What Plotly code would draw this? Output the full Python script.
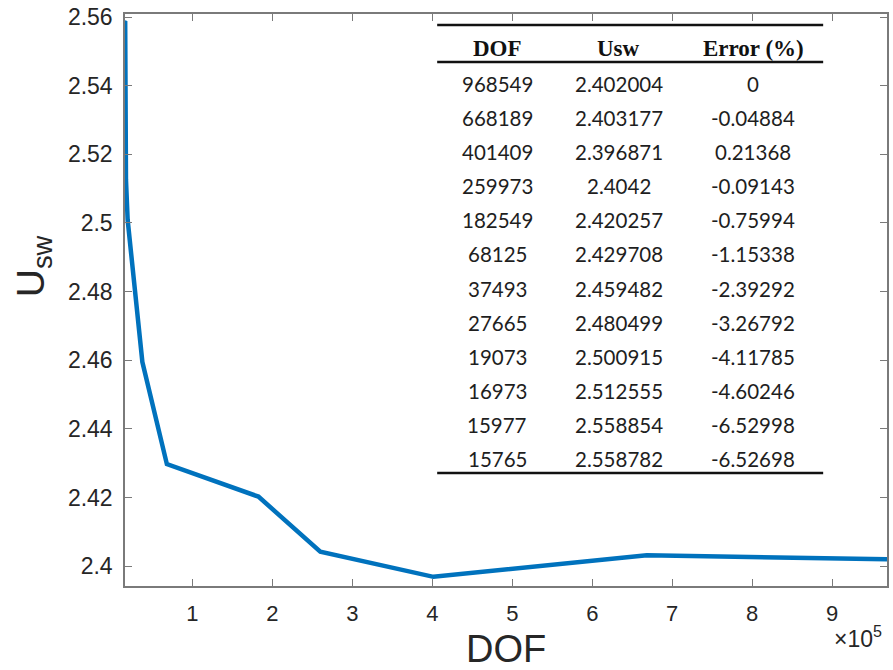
import plotly.graph_objects as go

# ---- data ----
dof = [968549, 668189, 401409, 259973, 182549, 68125, 37493, 27665, 19073, 16973, 15977, 15765]
usw = [2.402004, 2.403177, 2.396871, 2.4042, 2.420257, 2.429708, 2.459482, 2.480499, 2.500915, 2.512555, 2.558854, 2.558782]
err_txt = ["0", "-0.04884", "0.21368", "-0.09143", "-0.75994", "-1.15338", "-2.39292", "-3.26792", "-4.11785", "-4.60246", "-6.52998", "-6.52698"]
usw_txt = ["2.402004", "2.403177", "2.396871", "2.4042", "2.420257", "2.429708", "2.459482", "2.480499", "2.500915", "2.512555", "2.558854", "2.558782"]
headers = ["DOF", "Usw", "Error (%)"]
xtick_vals = [100000, 200000, 300000, 400000, 500000, 600000, 700000, 800000, 900000]
xtick_text = ["1", "2", "3", "4", "5", "6", "7", "8", "9"]

W, H = 893, 670
L, R, T, B = 125, 889, 14, 586

def px(x):
    return (x - L) / (R - L)

def py(y):
    return (B - y) / (B - T)

fig = go.Figure()
fig.add_trace(go.Scatter(x=dof, y=usw, mode="lines",
                         line=dict(color="#0072BD", width=4.5),
                         showlegend=False, hoverinfo="skip"))

axcol = "#7a7a7a"
fig.update_layout(
    width=W, height=H,
    margin=dict(l=L, r=W - R, t=T, b=H - B),
    paper_bgcolor="white", plot_bgcolor="white",
    font=dict(family="Liberation Sans, Arial, sans-serif", color="#262626"),
    xaxis=dict(range=[15765, 968549], tickvals=xtick_vals, ticktext=xtick_text,
               showgrid=False, zeroline=False, showline=True, mirror="ticks",
               linecolor=axcol, linewidth=1.5, ticks="inside", ticklen=7,
               tickcolor=axcol, tickwidth=1.3, tickfont=dict(size=22, color="#262626"),
               ticklabelstandoff=7),
    yaxis=dict(range=[2.3942, 2.5609], tick0=2.4, dtick=0.02,
               showgrid=False, zeroline=False, showline=True, mirror="ticks",
               linecolor=axcol, linewidth=1.5, ticks="inside", ticklen=7,
               tickcolor=axcol, tickwidth=1.3, tickfont=dict(size=23, color="#262626"),
               ticklabelstandoff=6),
)

ann = []
# axis titles
ann.append(dict(text="DOF", x=px(507), y=py(649), xref="paper", yref="paper",
                showarrow=False, font=dict(size=38, color="#262626"),
                xanchor="center", yanchor="middle"))
ann.append(dict(text="U<sub>sw</sub>", x=px(33), y=py(266), xref="paper", yref="paper",
                showarrow=False, font=dict(size=39, color="#262626"), textangle=-90,
                xanchor="center", yanchor="middle"))
ann.append(dict(text="\u00d710<sup>5</sup>", x=px(886), y=py(654), xref="paper", yref="paper",
                showarrow=False, font=dict(size=23, color="#262626"),
                xanchor="right", yanchor="bottom"))
# clipped title at the very top
ann.append(dict(text="<b>Convergence Analysis</b>", x=px(505), y=py(2.3), xref="paper", yref="paper",
                showarrow=False, font=dict(size=82, color="black"),
                xanchor="center", yanchor="bottom"))

# inset table
col_x = [498, 620, 755]
for cx, h in zip(col_x, headers):
    ann.append(dict(text="<b>" + h + "</b>", x=px(cx), y=py(49), xref="paper", yref="paper",
                    showarrow=False, font=dict(family="Liberation Serif, Times New Roman, serif",
                                               size=23, color="#111111"),
                    xanchor="center", yanchor="middle"))
row0, dy = 84, 34.1
for i in range(len(dof)):
    yy = row0 + i * dy
    for cx, t in zip(col_x, [str(dof[i]), usw_txt[i], err_txt[i]]):
        ann.append(dict(text=t, x=px(cx), y=py(yy), xref="paper", yref="paper",
                        showarrow=False, font=dict(family="Lato, sans-serif", size=20.5, color="#1e1e1e"),
                        xanchor="center", yanchor="middle"))
fig.update_layout(annotations=ann)

shapes = []
for yy in [25, 62, 473]:
    shapes.append(dict(type="line", xref="paper", yref="paper",
                       x0=px(438), x1=px(825), y0=py(yy), y1=py(yy),
                       line=dict(color="#111111", width=2.5)))
fig.update_layout(shapes=shapes)

fig.write_html("out.html")
